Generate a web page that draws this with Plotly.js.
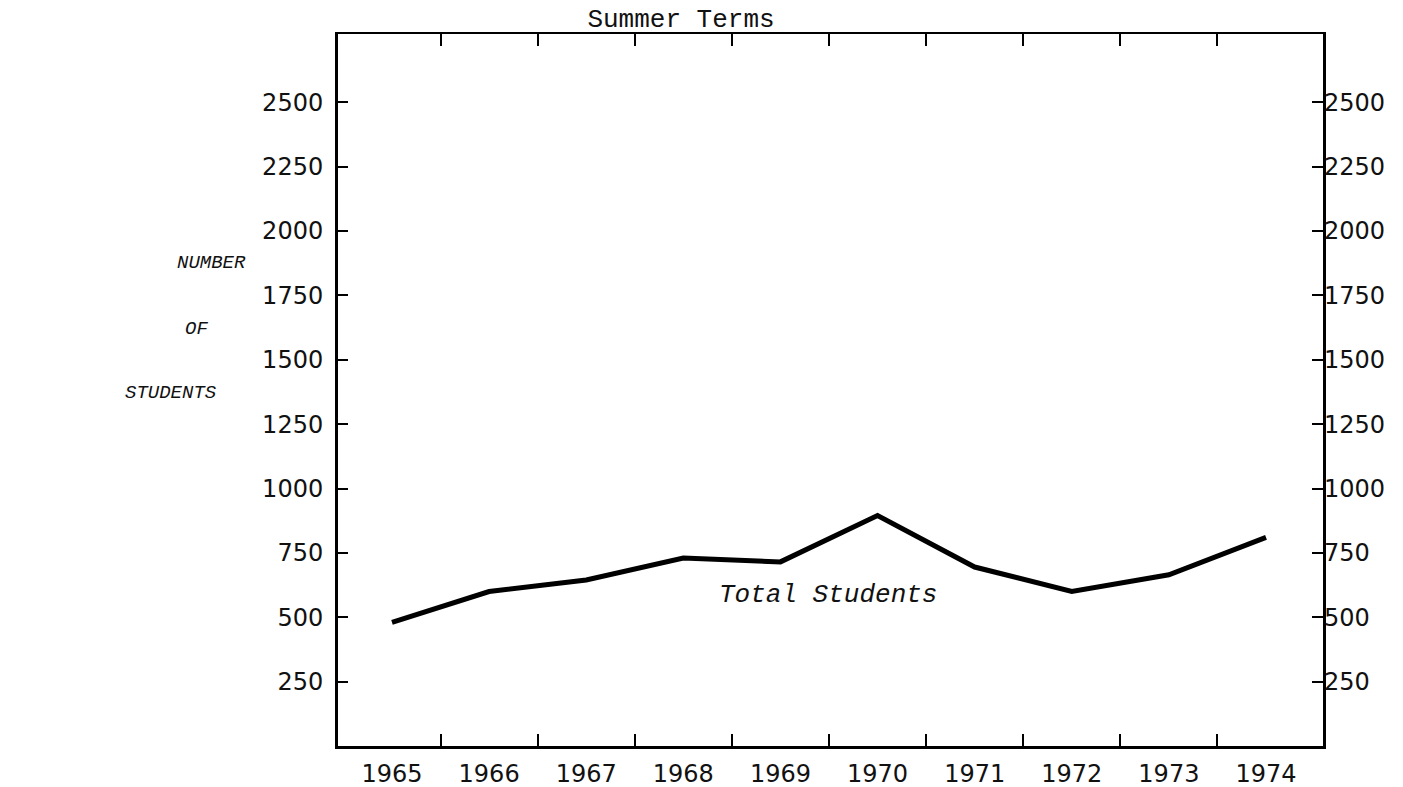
<!DOCTYPE html>
<html>
<head>
<meta charset="utf-8">
<script src="https://cdn.plot.ly/plotly-3.0.1.min.js"></script>
<style>
  html, body { margin: 0; padding: 0; background: #ffffff; }
  #chart { width: 1403px; height: 787px; }
</style>
</head>
<body>
<div id="chart"></div>
<script>
// ---- data ----
const years = [1965, 1966, 1967, 1968, 1969, 1970, 1971, 1972, 1973, 1974];
const yearLabels = ["1965", "1966", "1967", "1968", "1969", "1970", "1971", "1972", "1973", "1974"];
const totalStudents = [480, 600, 645, 730, 715, 895, 695, 600, 665, 810];
const yTickValues = [250, 500, 750, 1000, 1250, 1500, 1750, 2000, 2250, 2500];
const yTickLabels = ["250", "500", "750", "1000", "1250", "1500", "1750", "2000", "2250", "2500"];
const seriesLabel = "Total Students";
const chartTitle = "Summer Terms";
const yLabelLines = ["NUMBER", "OF", "STUDENTS"];

// ---- layout helpers ----
const W = 1403, H = 787;
const L = 338, R = 1323, T = 34, B = 746;
const xRange = [1964.444, 1974.587];
const yRange = [0, 2765];
const dividerTicks = years.slice(0, -1).map(v => v + 0.5);

const tickFont = { family: "DejaVu Sans, Liberation Sans, sans-serif", size: 24, color: "#111" };
const typeFont = { family: "Courier New, Liberation Mono, monospace", color: "#111" };

const traces = [
  {
    x: years, y: totalStudents, type: "scatter", mode: "lines",
    line: { color: "#000", width: 5 },
    xaxis: "x", yaxis: "y", hoverinfo: "skip", showlegend: false
  },
  {
    x: years, y: totalStudents, type: "scatter", mode: "lines",
    line: { color: "rgba(0,0,0,0)", width: 0 },
    xaxis: "x2", yaxis: "y2", hoverinfo: "skip", showlegend: false
  }
];

function px2paperX(px) { return (px - L) / (R - L); }
function px2paperY(py) { return (B - py) / (B - T); }

const layout = {
  width: W, height: H,
  margin: { l: L, r: W - R, t: T, b: H - B, pad: 0 },
  paper_bgcolor: "#fff", plot_bgcolor: "#fff",
  showlegend: false,
  title: {
    text: chartTitle,
    font: Object.assign({ size: 26 }, typeFont),
    x: 681 / W, xanchor: "center", xref: "container",
    y: 1 - 18 / H, yanchor: "middle", yref: "container"
  },
  xaxis: {
    range: xRange, showgrid: false, zeroline: false,
    showline: true, linecolor: "#000", linewidth: 2.5, mirror: "ticks",
    tickmode: "array", tickvals: dividerTicks, ticks: "inside",
    ticklen: 12, tickwidth: 2, tickcolor: "#000",
    showticklabels: false
  },
  xaxis2: {
    range: xRange, overlaying: "x", side: "bottom", anchor: "y",
    showgrid: false, zeroline: false, showline: false,
    tickmode: "array", tickvals: years, ticktext: yearLabels,
    ticks: "", tickfont: tickFont, ticklabelstandoff: 11
  },
  yaxis: {
    range: yRange, showgrid: false, zeroline: false,
    showline: true, linecolor: "#000", linewidth: 3, mirror: true,
    tickmode: "array", tickvals: yTickValues, ticktext: yTickLabels,
    ticks: "inside", ticklen: 10, tickwidth: 2, tickcolor: "#000",
    tickfont: tickFont, ticklabelstandoff: 7
  },
  yaxis2: {
    range: yRange, overlaying: "y", side: "right", anchor: "x",
    showgrid: false, zeroline: false, showline: false,
    tickmode: "array", tickvals: yTickValues, ticktext: yTickLabels,
    ticks: "inside", ticklen: 11, tickwidth: 2, tickcolor: "#000",
    tickfont: tickFont, ticklabelstandoff: 0
  },
  annotations: [
    {
      text: "<i>" + seriesLabel + "</i>", xref: "x", yref: "y",
      x: 1969.49, y: 586, xanchor: "center", yanchor: "middle",
      showarrow: false, font: Object.assign({ size: 26 }, typeFont)
    },
    {
      text: "<i>" + yLabelLines[0] + "</i>", xref: "paper", yref: "paper",
      x: px2paperX(211), y: px2paperY(263), xanchor: "center", yanchor: "middle",
      showarrow: false, font: Object.assign({ size: 19 }, typeFont)
    },
    {
      text: "<i>" + yLabelLines[1] + "</i>", xref: "paper", yref: "paper",
      x: px2paperX(196), y: px2paperY(329), xanchor: "center", yanchor: "middle",
      showarrow: false, font: Object.assign({ size: 19 }, typeFont)
    },
    {
      text: "<i>" + yLabelLines[2] + "</i>", xref: "paper", yref: "paper",
      x: px2paperX(171), y: px2paperY(393), xanchor: "center", yanchor: "middle",
      showarrow: false, font: Object.assign({ size: 19 }, typeFont)
    }
  ]
};

Plotly.newPlot("chart", traces, layout, { staticPlot: true, displayModeBar: false });
</script>
</body>
</html>
